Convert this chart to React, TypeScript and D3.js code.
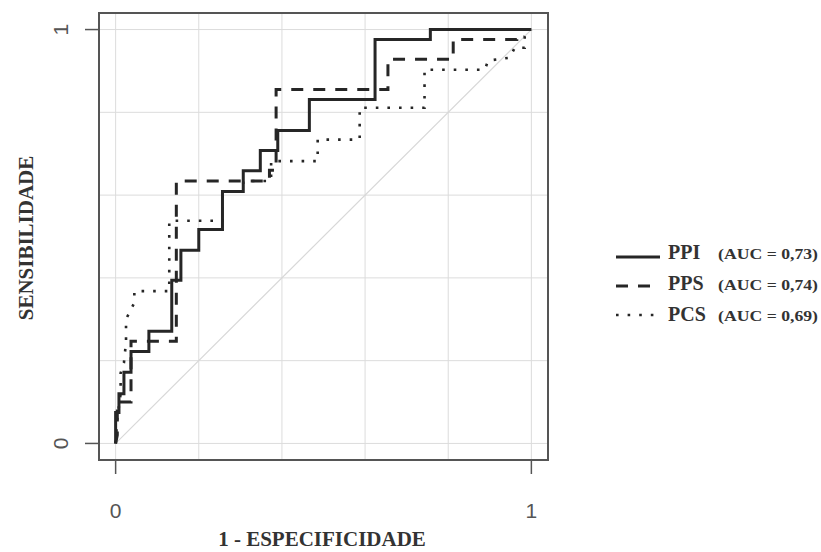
import * as d3 from 'd3';

// ROC curves: false positive rate (1 - especificidade) and sensibilidade
const ppiFpr = [0, 0, 0.008, 0.008, 0.02, 0.02, 0.037, 0.037, 0.08, 0.08, 0.135, 0.135, 0.157, 0.157, 0.2, 0.2, 0.257, 0.257, 0.307, 0.307, 0.348, 0.348, 0.39, 0.39, 0.466, 0.466, 0.624, 0.624, 0.757, 0.757, 1];
const ppiTpr = [0, 0.075, 0.075, 0.12, 0.12, 0.172, 0.172, 0.222, 0.222, 0.271, 0.271, 0.394, 0.394, 0.467, 0.467, 0.517, 0.517, 0.609, 0.609, 0.659, 0.659, 0.708, 0.708, 0.756, 0.756, 0.831, 0.831, 0.976, 0.976, 1, 1];

const ppsFpr = [0, 0.004, 0.004, 0.037, 0.037, 0.146, 0.146, 0.37, 0.37, 0.386, 0.386, 0.655, 0.655, 0.812, 0.812, 0.965, 0.965, 1];
const ppsTpr = [0, 0.02, 0.1, 0.1, 0.247, 0.247, 0.634, 0.634, 0.66, 0.66, 0.855, 0.855, 0.928, 0.928, 0.976, 0.976, 1, 1];

const pcsFpr = [0, 0.004, 0.012, 0.012, 0.02, 0.025, 0.025, 0.045, 0.045, 0.129, 0.129, 0.257, 0.257, 0.307, 0.307, 0.374, 0.374, 0.486, 0.486, 0.587, 0.587, 0.743, 0.743, 0.888, 0.896, 0.948, 0.96, 0.984, 0.984, 1];
const pcsTpr = [0, 0.06, 0.12, 0.17, 0.195, 0.245, 0.3, 0.34, 0.368, 0.368, 0.538, 0.538, 0.609, 0.609, 0.634, 0.634, 0.682, 0.682, 0.734, 0.734, 0.811, 0.811, 0.903, 0.903, 0.925, 0.932, 0.956, 0.956, 0.984, 1];

const seriesNames = ['PPI', 'PPS', 'PCS'];
const aucLabels = ['(AUC = 0,73)', '(AUC = 0,74)', '(AUC = 0,69)'];
const gridTicks = [0, 0.2, 0.4, 0.6, 0.8, 1];
const axisTicks = [0, 1];

const W = 821;
const H = 552;
const box = { left: 99, right: 548, top: 13, bottom: 460 };

export default function App() {
  const x = d3.scaleLinear().domain([-0.04, 1.04]).range([box.left, box.right]);
  const y = d3.scaleLinear().domain([-0.04, 1.04]).range([box.bottom, box.top]);

  const line = d3.line<[number, number]>()
    .x(d => x(d[0]))
    .y(d => y(d[1]));

  const zip = (a: number[], b: number[]) => a.map((v, i) => [v, b[i]] as [number, number]);

  const series = [
    { name: seriesNames[0], pts: zip(ppiFpr, ppiTpr), dash: 'none', width: 3 },
    { name: seriesNames[1], pts: zip(ppsFpr, ppsTpr), dash: '12,10', width: 3 },
    { name: seriesNames[2], pts: zip(pcsFpr, pcsTpr), dash: '2.6,9', width: 2.6 },
  ];

  const ink = '#262626';
  const serif = '"Liberation Serif", "Times New Roman", serif';
  const sans = '"Liberation Sans", Arial, sans-serif';

  return (
    <svg width={W} height={H} style={{ position: 'absolute', left: 0, top: 0, background: '#fff' }}>
      {/* grid */}
      {gridTicks.map(t => (
        <g key={'g' + t}>
          <line x1={x(t)} x2={x(t)} y1={box.top} y2={box.bottom} stroke="#dcdcdc" strokeWidth={1} />
          <line x1={box.left} x2={box.right} y1={y(t)} y2={y(t)} stroke="#dcdcdc" strokeWidth={1} />
        </g>
      ))}
      {/* chance diagonal */}
      <line x1={x(0)} y1={y(0)} x2={x(1)} y2={y(1)} stroke="#d8d8d8" strokeWidth={1.2} />

      {/* curves, solid drawn last */}
      {[...series].reverse().map(s => (
        <path key={s.name} d={line(s.pts) ?? ''} fill="none" stroke={ink}
          strokeWidth={s.width} strokeDasharray={s.dash} strokeLinejoin="miter" />
      ))}

      {/* frame */}
      <rect x={box.left} y={box.top} width={box.right - box.left} height={box.bottom - box.top}
        fill="none" stroke="#555" strokeWidth={2} />

      {/* axis ticks and labels */}
      {axisTicks.map(t => (
        <g key={'x' + t}>
          <line x1={x(t)} x2={x(t)} y1={box.bottom} y2={box.bottom + 14} stroke="#555" strokeWidth={1.5} />
          <text x={x(t)} y={518} textAnchor="middle" fontFamily={sans} fontSize={21} fill="#555">{t}</text>
        </g>
      ))}
      {axisTicks.map(t => (
        <g key={'y' + t}>
          <line x1={box.left - 14} x2={box.left} y1={y(t)} y2={y(t)} stroke="#555" strokeWidth={1.5} />
          <text transform={`translate(68,${y(t)}) rotate(-90)`} textAnchor="middle"
            fontFamily={sans} fontSize={21} fill="#555">{t}</text>
        </g>
      ))}

      {/* axis titles */}
      <text x={322} y={546} textAnchor="middle" fontFamily={serif} fontWeight="bold" fontSize={21} fill="#333">
        1 - ESPECIFICIDADE
      </text>
      <text transform="translate(33,238) rotate(-90)" textAnchor="middle" fontFamily={serif}
        fontWeight="bold" fontSize={21} fill="#333">
        SENSIBILIDADE
      </text>

      {/* legend */}
      {series.map((s, i) => {
        const base = 259 + i * 31;
        const ly = base - 2 - i * 2;
        return (
          <g key={'l' + s.name}>
            <line x1={616} x2={i === 0 ? 660 : 654} y1={ly} y2={ly} stroke={ink}
              strokeWidth={s.width} strokeDasharray={i === 2 ? '2.6,9' : s.dash} />
            <text x={668} y={base} fontFamily={serif} fontWeight="bold" fontSize={20} fill="#333">{s.name}</text>
            <text x={718} y={base} fontFamily={serif} fontWeight="bold" fontSize={14} fill="#333"
              textLength={100} lengthAdjust="spacingAndGlyphs">{aucLabels[i]}</text>
          </g>
        );
      })}
    </svg>
  );
}
